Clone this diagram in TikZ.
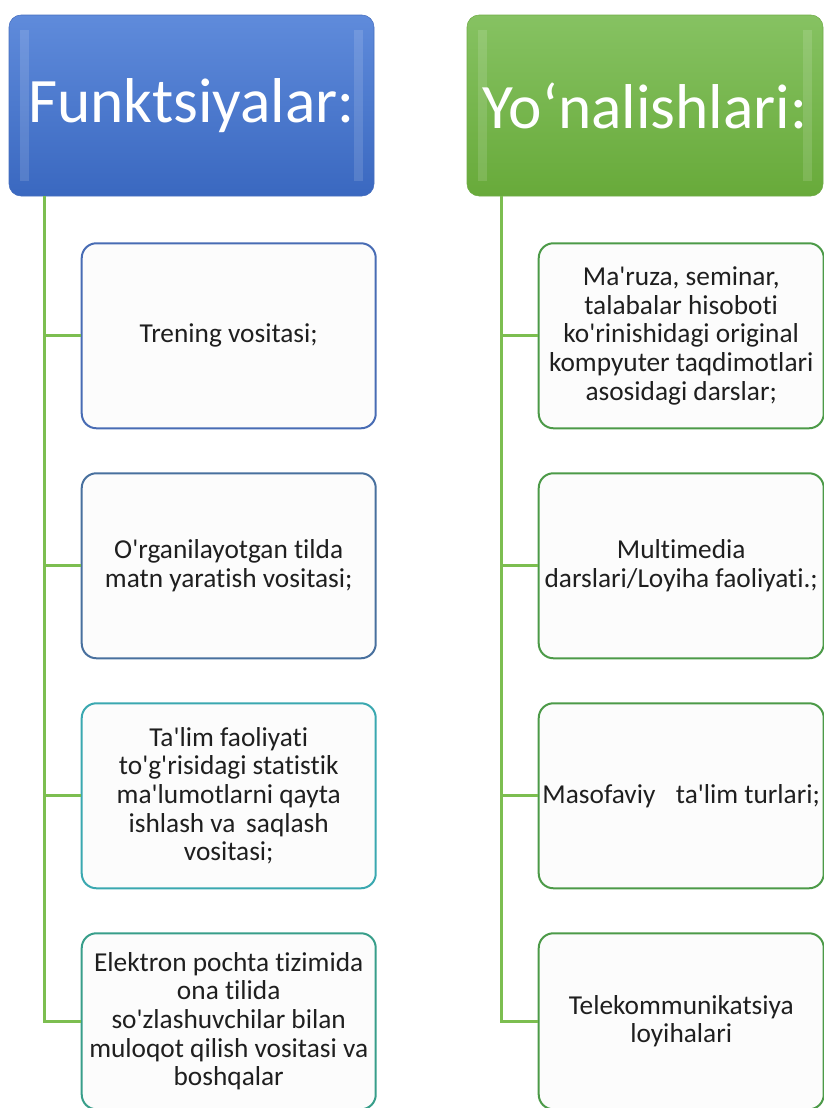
\documentclass[tikz,border=0pt]{standalone}
\usepackage{fontspec}
\setmainfont{Carlito}[Ligatures={TeXOff,CommonOff}]
\usetikzlibrary{positioning}
\definecolor{blueTop}{RGB}{95,139,219}
\definecolor{blueBot}{RGB}{58,104,192}
\definecolor{blueEdge}{RGB}{70,110,190}
\definecolor{greenTop}{RGB}{134,194,98}
\definecolor{greenBot}{RGB}{104,170,58}
\definecolor{greenEdge}{RGB}{112,172,72}
\definecolor{trunk}{RGB}{124,190,80}
\definecolor{boxFill}{RGB}{252,252,252}
\definecolor{fOne}{RGB}{72,108,180}
\definecolor{fTwo}{RGB}{72,112,158}
\definecolor{fThree}{RGB}{58,168,176}
\definecolor{fFour}{RGB}{56,158,138}
\definecolor{yEdge}{RGB}{76,154,72}
\tikzset{
head/.style={rounded corners=9pt, minimum height=135.75pt, text=white, inner sep=0pt, font=\fontsize{47.5}{54}\selectfont,
  path picture={\fill[white, opacity=0.13, sharp corners] ([shift={(8pt,-11pt)}]path picture bounding box.north west) rectangle ([shift={(15pt,11pt)}]path picture bounding box.south west);
                \fill[white, opacity=0.13, sharp corners] ([shift={(-8pt,-11pt)}]path picture bounding box.north east) rectangle ([shift={(-15pt,11pt)}]path picture bounding box.south east);}}, % big coloured title boxes
item/.style={draw, line width=1.5pt, rounded corners=11pt, fill=boxFill, minimum height=138.75pt, align=center, inner sep=2pt, text=black!88, font=\fontsize{20.5}{21.5}\selectfont}, % the list boxes
link/.style={draw=trunk, line width=2.2pt},
node distance=32.25pt,
}
\begin{document}
\begin{tikzpicture}[x=0.75pt,y=0.75pt]
    \useasboundingbox (0,0) rectangle (824,-1108);

    % left column
    \node[head, top color=blueTop, bottom color=blueBot, draw=blueEdge, minimum width=273.75pt] (fhead) at (191.5,-105.5) {Funktsiyalar:};
    \node[item, draw=fOne, minimum width=220.5pt, below right=34.5pt and 54pt of fhead.south west] (f1) {Trening vositasi;};
    \node[item, draw=fTwo, minimum width=220.5pt, below=of f1] (f2) {O'rganilayotgan tilda\\matn yaratish vositasi;};
    \node[item, draw=fThree, minimum width=220.5pt, below=of f2] (f3) {Ta'lim faoliyati\\to'g'risidagi statistik\\ma'lumotlarni qayta\\ishlash va\, saqlash\\vositasi;};
    \node[item, draw=fFour, minimum width=220.5pt, minimum height=132pt, below=of f3] (f4) {Elektron pochta tizimida\\ona tilida\\so'zlashuvchilar bilan\\muloqot qilish vositasi va\\boshqalar};

    % right column
    \node[head, top color=greenTop, bottom color=greenBot, draw=greenEdge, minimum width=267pt] (yhead) at (645,-105.5) {Yo‘nalishlari:};
    \node[item, draw=yEdge, minimum width=213.75pt, below right=34.5pt and 53.25pt of yhead.south west] (y1) {Ma'ruza, seminar,\\talabalar hisoboti\\ko'rinishidagi original\\kompyuter taqdimotlari\\asosidagi darslar;};
    \node[item, draw=yEdge, minimum width=213.75pt, below=of y1] (y2) {Multimedia\\darslari/Loyiha faoliyati.;};
    \node[item, draw=yEdge, minimum width=213.75pt, below=of y2] (y3) {Masofaviy\hspace{0.75em}ta'lim turlari;};
    \node[item, draw=yEdge, minimum width=213.75pt, minimum height=132pt, below=of y3] (y4) {Telekommunikatsiya\\loyihalari};

    % connectors
    \foreach \n in {f1,f2,f3,f4}
        \draw[link] ([xshift=27pt]fhead.south west) |- (\n.west);
    \foreach \n in {y1,y2,y3,y4}
        \draw[link] ([xshift=26.25pt]yhead.south west) |- (\n.west);
\end{tikzpicture}
\end{document}
